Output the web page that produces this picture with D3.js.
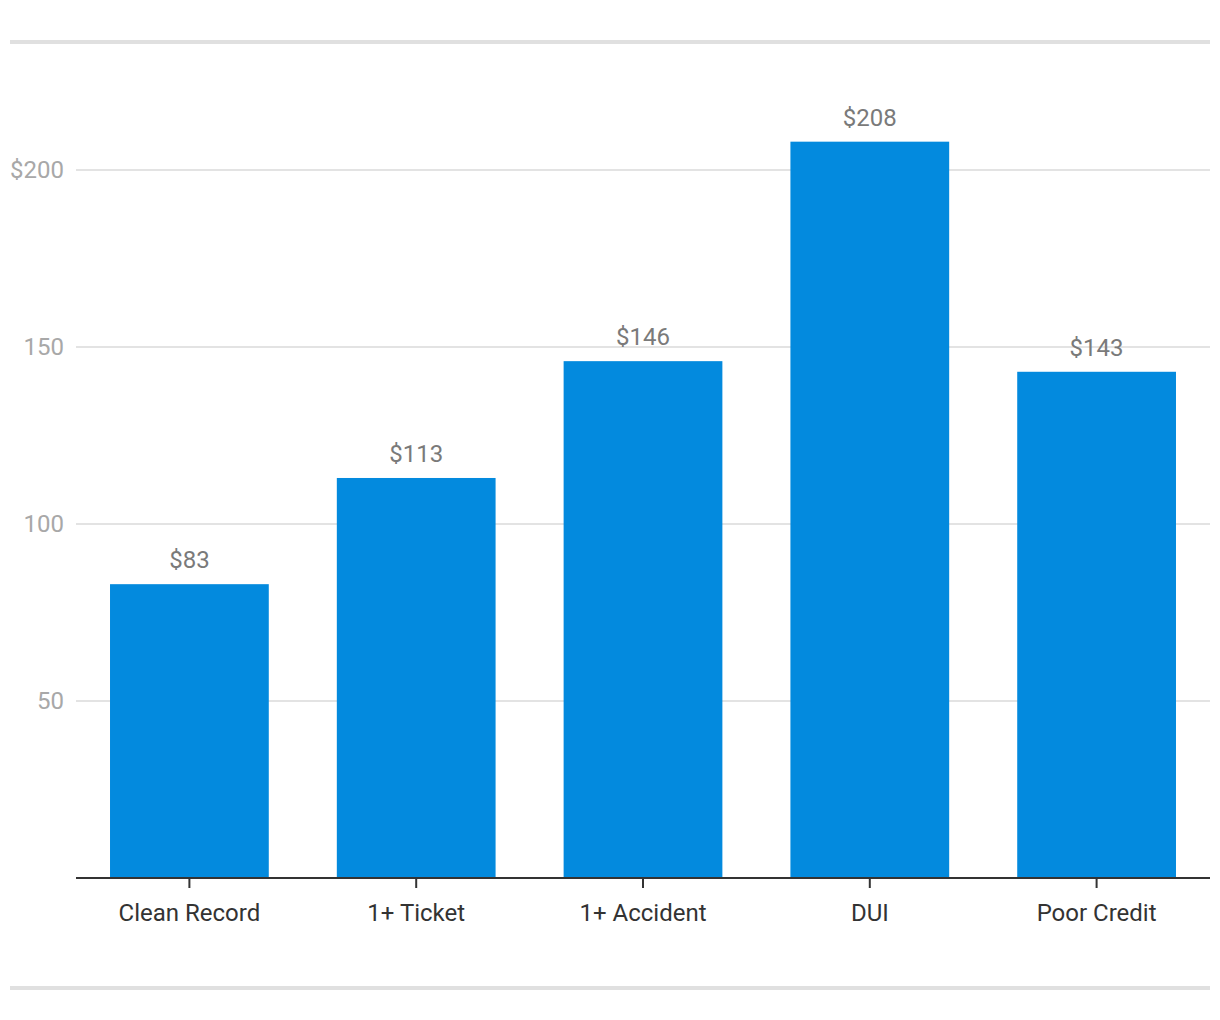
<!DOCTYPE html>
<html><head><meta charset="utf-8">
<script src="https://cdn.jsdelivr.net/npm/d3@7"></script>
<style>body{margin:0;background:#fff;}svg{display:block;font-family:Roboto,sans-serif;}</style>
</head><body>
<svg id="c" width="1220" height="1020"></svg>
<script>
const categories = ["Clean Record", "1+ Ticket", "1+ Accident", "DUI", "Poor Credit"];
const values = [83, 113, 146, 208, 143];
const yTicks = [50, 100, 150, 200];
const yTickLabels = ["50", "100", "150", "$200"];
const valueLabels = ["$83", "$113", "$146", "$208", "$143"];

const svg = d3.select("#c");
const left = 76, right = 1210, bottom = 878;
const x = d3.scaleBand().domain(categories).range([left, right]).paddingInner(0.3).paddingOuter(0.15);
const y = d3.scaleLinear().domain([0, 200]).range([bottom, 170]);

// frame lines
svg.append("rect").attr("x", 10).attr("y", 40).attr("width", 1200).attr("height", 4).attr("fill", "#e0e0e0");
svg.append("rect").attr("x", 10).attr("y", 986).attr("width", 1200).attr("height", 4).attr("fill", "#e0e0e0");

// gridlines
svg.append("g").selectAll("line").data(yTicks).join("line")
  .attr("x1", left).attr("x2", right)
  .attr("y1", d => y(d)).attr("y2", d => y(d))
  .attr("stroke", "#e3e3e3").attr("stroke-width", 2);

svg.append("g").selectAll("text").data(yTicks).join("text")
  .attr("x", 64).attr("y", d => y(d)).attr("dy", "0.35em")
  .attr("text-anchor", "end").attr("fill", "#a8a8a8").attr("font-size", 24)
  .text((d, i) => yTickLabels[i]);

// bars
svg.append("g").selectAll("rect").data(values).join("rect")
  .attr("x", (d, i) => x(categories[i])).attr("width", x.bandwidth())
  .attr("y", d => y(d)).attr("height", d => bottom - y(d))
  .attr("fill", "#038ade");

svg.append("g").selectAll("text").data(values).join("text")
  .attr("x", (d, i) => x(categories[i]) + x.bandwidth() / 2)
  .attr("y", d => y(d) - 16)
  .attr("text-anchor", "middle").attr("fill", "#7a7a7a").attr("font-size", 24)
  .text((d, i) => valueLabels[i]);

// x axis
const xa = svg.append("g").attr("transform", `translate(0,${bottom})`)
  .call(d3.axisBottom(x).tickSize(10).tickPadding(16));
xa.select(".domain").attr("stroke", "#333").attr("stroke-width", 2).attr("d", `M${left},0H${right}`);
xa.selectAll(".tick line").attr("stroke", "#333").attr("stroke-width", 2);
xa.selectAll(".tick text").attr("fill", "#333").attr("font-size", 24).attr("font-family", "Roboto, sans-serif");
</script>
</body></html>
